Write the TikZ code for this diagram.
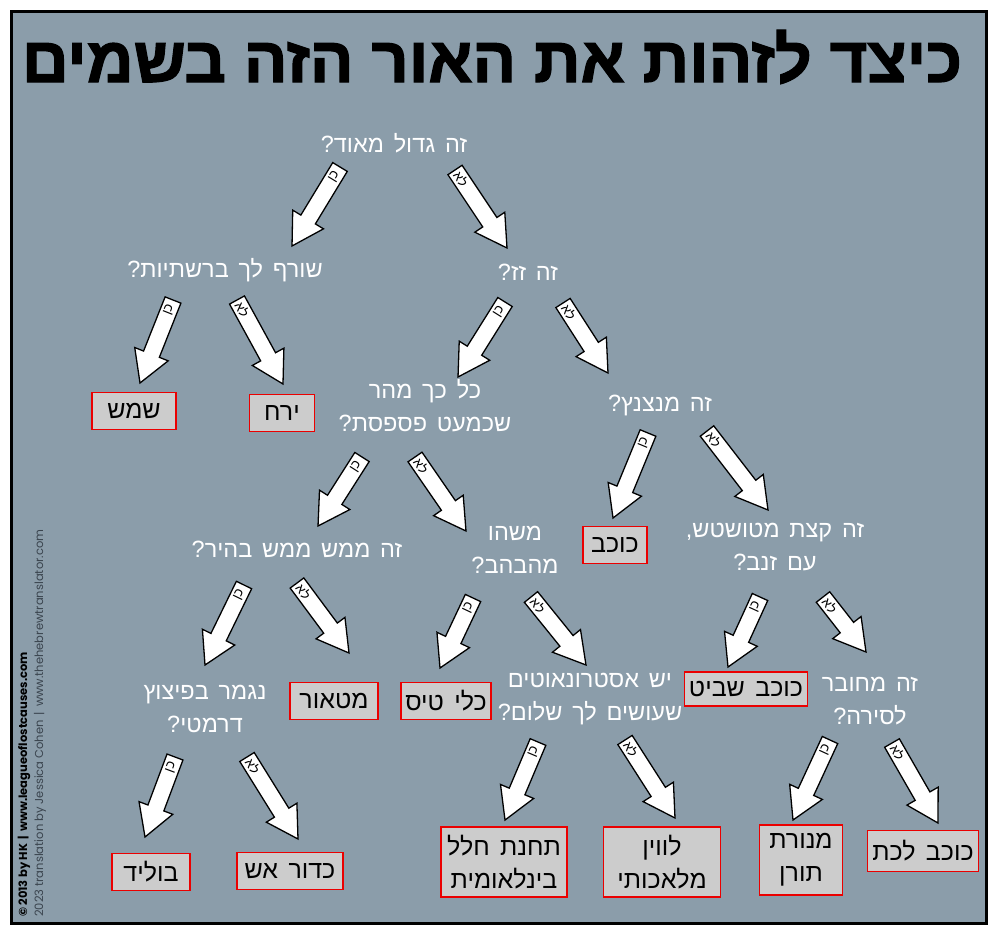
\documentclass[tikz,border=0pt]{standalone}
\usepackage{fontspec}
\usepackage{graphicx}
\TeXXeTstate=1
\newfontfamily\hebfont[Script=Hebrew]{Liberation Sans}
\newfontfamily\hebq[Script=Hebrew,WordSpace=1.5]{Liberation Sans}
\newfontfamily\hebtitle[Script=Hebrew,FakeBold=2]{Liberation Sans Bold}
\newfontfamily\credfont{Poppins}
\newcommand\hb[1]{\beginR#1\endR}
\definecolor{bg}{RGB}{139,157,170}
\definecolor{boxgray}{RGB}{204,204,204}
\definecolor{boxred}{RGB}{235,0,0}
\definecolor{credtwo}{RGB}{58,68,78}
\tikzset{
  quest/.style={text=white, align=center, inner sep=0pt,
    font=\hebq\fontsize{23.5}{33}\selectfont},
  answer/.style={draw=boxred, line width=1.6pt, fill=boxgray, align=center,
    inner sep=0pt, minimum height=37pt,
    font=\hebfont\fontsize{25}{33}\selectfont},
  answertwo/.style={answer, minimum height=70pt},
  arrowbody/.style={draw=black, fill=white, line width=1.3pt, line join=miter},
  arrowlabel/.style={inner sep=0pt, font=\hebfont\fontsize{13}{13}\selectfont}
}
\newcommand\fatarrow[3]{%
  \path (#1); \pgfgetlastxy{\fax}{\fay}%
  \path (#2); \pgfgetlastxy{\fbx}{\fby}%
  \pgfmathsetmacro\faang{atan2(\fby-\fay,\fbx-\fax)}%
  \pgfmathsetmacro\falen{veclen(\fbx-\fax,\fby-\fay)}%
  \pgfmathsetmacro\fab{\falen-31}%
  \pgfmathsetmacro\lrot{ifthenelse(\faang<-90,\faang+180,\faang)}%
  \begin{scope}[shift={(#1)},rotate=\faang]
    \draw[arrowbody] (0pt,8.5pt) -- (\fab pt,8.5pt) -- (\fab pt,18pt) -- (\falen pt,0pt)
      -- (\fab pt,-18pt) -- (\fab pt,-8.5pt) -- (0pt,-8.5pt) -- cycle;
    \node[arrowlabel, rotate=\lrot] at (11pt,0pt) {\hb{#3}};
  \end{scope}}
\begin{document}
\begin{tikzpicture}[x=1pt,y=-1pt]
\useasboundingbox (0,0) rectangle (1000,937);
\fill[white] (0,0) rectangle (1000,937);
\draw[line width=3pt, fill=bg] (11,11) rectangle (986,923);

% title
\node[anchor=base, inner sep=0pt] (title) at (492,82)
  {\resizebox{940pt}{\height}{\hebtitle\fontsize{64}{64}\selectfont\hb{כיצד לזהות את האור הזה בשמים}}};

% questions
\node[quest] (q1) at (394,143) {\hb{זה גדול מאוד?}};
\node[quest] (q2) at (225,270) {\hb{שורף לך ברשתיות?}};
\node[quest] (q3) at (528,272) {\hb{זה זז?}};
\node[quest] (q4) at (425,406) {\hb{כל כך מהר}\\\hb{שכמעט פספסת?}};
\node[quest] (q5) at (660,405) {\hb{זה מנצנץ?}};
\node[quest] (q6) at (297,549) {\hb{זה ממש ממש בהיר?}};
\node[quest] (q7) at (515,550) {\hb{משהו}\\\hb{מהבהב?}};
\node[quest] (q8) at (775,547) {\hb{זה קצת מטושטש,}\\\hb{עם זנב?}};
\node[quest] (q9) at (205,709) {\hb{נגמר בפיצוץ}\\\hb{דרמטי?}};
\node[quest] (q10) at (590,699) {\hb{יש אסטרונאוטים}\\\hb{שעושים לך שלום?}};
\node[quest] (q11) at (870,701) {\hb{זה מחובר}\\\hb{לסירה?}};

% answers
\node[answer, minimum width=84pt] (sun) at (134,411) {\hb{שמש}};
\node[answer, minimum width=65pt] (moon) at (282,413) {\hb{ירח}};
\node[answer, minimum width=64pt] (star) at (615,545) {\hb{כוכב}};
\node[answer, minimum width=88pt] (meteor) at (334,701) {\hb{מטאור}};
\node[answer, minimum width=90pt] (plane) at (446,701) {\hb{כלי טיס}};
\node[answer, minimum width=123pt, minimum height=34pt] (comet) at (746,689) {\hb{כוכב שביט}};
\node[answer, minimum width=78pt] (bolide) at (151,872) {\hb{בוליד}};
\node[answer, minimum width=106pt] (fireball) at (290,871) {\hb{כדור אש}};
\node[answertwo, minimum width=126pt] (iss) at (504,862) {\hb{תחנת חלל}\\\hb{בינלאומית}};
\node[answertwo, minimum width=117pt] (sat) at (662,862) {\hb{לווין}\\\hb{מלאכותי}};
\node[answertwo, minimum width=83pt] (mast) at (801,860) {\hb{מנורת}\\\hb{תורן}};
\node[answer, minimum width=111pt, minimum height=41pt] (planet) at (923,851) {\hb{כוכב לכת}};

% arrow end points
\coordinate (t1) at (340,167);  \coordinate (h1) at (292,246);
\coordinate (t2) at (455,170);  \coordinate (h2) at (507,248);
\coordinate (t3) at (173,300);  \coordinate (h3) at (140,383);
\coordinate (t4) at (237,300);  \coordinate (h4) at (283,384);
\coordinate (t5) at (505,302);  \coordinate (h5) at (458,377);
\coordinate (t6) at (563,303);  \coordinate (h6) at (608,373);
\coordinate (t7) at (362,457);  \coordinate (h7) at (318,526);
\coordinate (t8) at (415,457);  \coordinate (h8) at (466,531);
\coordinate (t9) at (648,433);  \coordinate (h9) at (613,518);
\coordinate (t10) at (707,431); \coordinate (h10) at (768,510);
\coordinate (t11) at (244,585); \coordinate (h11) at (205,665);
\coordinate (t12) at (297,583); \coordinate (h12) at (349,653);
\coordinate (t13) at (473,598); \coordinate (h13) at (440,668);
\coordinate (t14) at (531,597); \coordinate (h14) at (586,665);
\coordinate (t15) at (760,597); \coordinate (h15) at (728,667);
\coordinate (t16) at (823,597); \coordinate (h16) at (866,652);
\coordinate (t17) at (175,757); \coordinate (h17) at (145,837);
\coordinate (t18) at (247,757); \coordinate (h18) at (298,839);
\coordinate (t19) at (538,742); \coordinate (h19) at (505,820);
\coordinate (t20) at (625,740); \coordinate (h20) at (675,818);
\coordinate (t21) at (830,740); \coordinate (h21) at (793,820);
\coordinate (t22) at (892,743); \coordinate (h22) at (938,823);

\fatarrow{t1}{h1}{כן}   \fatarrow{t2}{h2}{לא}
\fatarrow{t3}{h3}{כן}   \fatarrow{t4}{h4}{לא}
\fatarrow{t5}{h5}{כן}   \fatarrow{t6}{h6}{לא}
\fatarrow{t7}{h7}{כן}   \fatarrow{t8}{h8}{לא}
\fatarrow{t9}{h9}{כן}   \fatarrow{t10}{h10}{לא}
\fatarrow{t11}{h11}{כן} \fatarrow{t12}{h12}{לא}
\fatarrow{t13}{h13}{כן} \fatarrow{t14}{h14}{לא}
\fatarrow{t15}{h15}{כן} \fatarrow{t16}{h16}{לא}
\fatarrow{t17}{h17}{כן} \fatarrow{t18}{h18}{לא}
\fatarrow{t19}{h19}{כן} \fatarrow{t20}{h20}{לא}
\fatarrow{t21}{h21}{כן} \fatarrow{t22}{h22}{לא}

% credits
\node[rotate=90, anchor=west, inner sep=0pt, font=\credfont\bfseries\fontsize{11.5}{12}\selectfont]
  (cred1) at (24,917) {© 2013 by HK \,|\, www.leagueoflostcauses.com};
\node[rotate=90, anchor=west, inner sep=0pt, text=credtwo, font=\credfont\fontsize{11.5}{12}\selectfont]
  (cred2) at (40,917) {2023 translation by Jessica Cohen \,|\, www.thehebrewtranslator.com};
\end{tikzpicture}
\end{document}
